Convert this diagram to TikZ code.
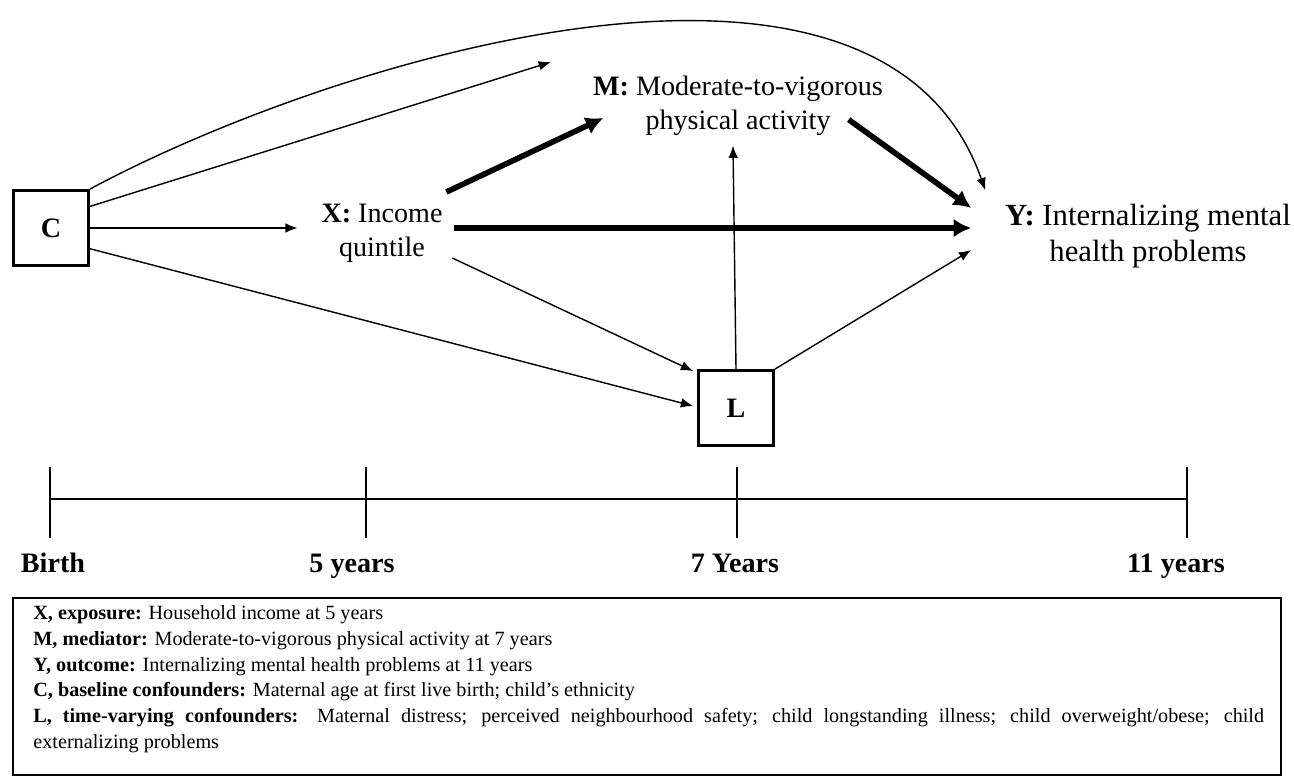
\documentclass[tikz,border=0pt]{standalone}
\usepackage{fontspec}
\setmainfont{Liberation Serif}
\usetikzlibrary{arrows.meta,calc}

\begin{document}
\begin{tikzpicture}[x=0.02cm, y=-0.02cm,
    box/.style={draw, line width=1.6pt, minimum size=1.5cm, inner sep=0pt, font=\fontsize{16}{19}\selectfont\bfseries},
    var/.style={align=center, inner sep=2pt, font=\fontsize{16}{19.3}\selectfont},
    thin/.style={line width=0.8pt, -{Latex[length=7pt,width=5.5pt]}},
    thick/.style={line width=3.2pt, -{Latex[length=10pt,width=10.5pt]}},
    tick/.style={anchor=base, font=\fontsize{16}{19}\selectfont\bfseries}]
      \useasboundingbox (0,0) rectangle (1294,782);
      % variables
      \node[box] (C) at (51,228) {C};
      \node[box] (L) at (736,408) {L};
      \node[var] (X) at (382,233) {\textbf{X:} Income\\quintile};
      \node[var] (M) at (738,106) {\textbf{M:} Moderate-to-vigorous\\physical activity};
      \node[var, font=\fontsize{17.5}{20.5}\selectfont] (Y) at (1148,236) {\textbf{Y:} Internalizing mental\\health problems};
      \coordinate (cm) at (551,62);
      % paths
      \draw[thin] (C.north east) .. controls (330,60) and (880,-110) .. ($(Y.north west)+(-16,-10)$);
      \draw[thin] (C.29) -- (cm);
      \draw[thin] (C.east) -- ($(X.west)+(-20,-5)$);
      \draw[thin] (C.-28) -- ($(L.west)+(-4,-2)$);
      \draw[thin] ($(X.south east)+(6,-8)$) -- ($(L.north west)+(-4,2)$);
      \draw[thin] (L.north) -- ($(M.south)+(-5,6)$);
      \draw[thin] (L.north east) -- ($(Y.west)+(-30,14)$);
      \draw[thick] ($(X.north east)+(0,-8)$) -- ($(M.west)+(14,12)$);
      \draw[thick] ($(X.east)+(8,-5)$) -- ($(Y.west)+(-30,-8)$);
      \draw[thick] ($(M.south east)+(-38,-20)$) -- ($(Y.west)+(-30,-28)$);
      % timeline
      \draw[line width=1.2pt] (50,499) -- (1187,499);
      \foreach \x in {50,366,737,1187} {
        \draw[line width=1pt] (\x,467) -- (\x,538);
      }
      \node[tick] (tb) at (53,572) {Birth};
      \node[tick] (t5) at (352,572) {5 years};
      \node[tick] (t7) at (735,572) {7 Years};
      \node[tick] (t11) at (1176,572) {11 years};
      % legend
      \draw[line width=0.8pt] (13,598) rectangle (1281,775);
      \node[anchor=north west, inner sep=0pt, text width=24.62cm, align=justify, font=\fontsize{11.5}{14.7}\selectfont] (legend) at (33,605) {%
        \textbf{X, exposure:} Household income at 5 years\\
        \textbf{M, mediator:} Moderate-to-vigorous physical activity at 7 years\\
        \textbf{Y, outcome:} Internalizing mental health problems at 11 years\\
        \textbf{C, baseline confounders:} Maternal age at first live birth; child’s ethnicity\\
        \textbf{L, time-varying confounders:} Maternal distress; perceived neighbourhood safety; child longstanding illness; child overweight/obese; child\linebreak
        externalizing problems};
\end{tikzpicture}
\end{document}
